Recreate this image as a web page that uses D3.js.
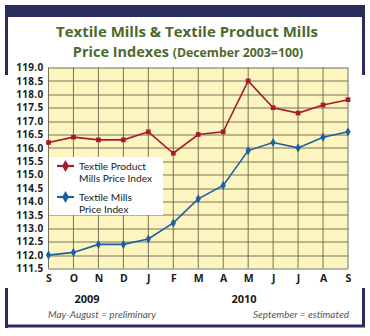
<!DOCTYPE html>
<html>
<head>
<meta charset="utf-8">
<script src="https://cdn.jsdelivr.net/npm/d3@7"></script>
<style>
  body { margin: 0; background: #fff; }
  svg { display: block; }
</style>
</head>
<body>
<div id="chart"></div>
<script>
// months Sep 2009 - Sep 2010
var months = ["S", "O", "N", "D", "J", "F", "M", "A", "M", "J", "J", "A", "S"];
var productMills = [116.2, 116.4, 116.3, 116.3, 116.6, 115.8, 116.5, 116.6, 118.5, 117.5, 117.3, 117.6, 117.8];
var textileMills = [112.0, 112.1, 112.4, 112.4, 112.6, 113.2, 114.1, 114.6, 115.9, 116.2, 116.0, 116.4, 116.6];
var yTicks = [111.5, 112, 112.5, 113, 113.5, 114, 114.5, 115, 115.5, 116, 116.5, 117, 117.5, 118, 118.5, 119];
var seriesNames = [["Textile Product", "Mills Price Index"], ["Textile Mills", "Price Index"]];

var svgWidth = 370;
var svgHeight = 336;
var margin = { top: 67.5, left: 48.5, right: 22, bottom: 68 };
var width = 348 - 48.5;
var height = 268.5 - 67.5;

var navy = "#2b2c5e";
var red = "#a8192a";
var blue = "#1d5fa3";

var svg = d3.select("#chart")
  .append("svg")
  .attr("width", svgWidth)
  .attr("height", svgHeight);

// frame
svg.append("rect").attr("x", 5).attr("y", 5).attr("width", 360).attr("height", 12).attr("fill", navy);
svg.append("rect").attr("x", 5).attr("y", 5).attr("width", 3).attr("height", 70).attr("fill", navy);
svg.append("rect").attr("x", 362).attr("y", 5).attr("width", 3).attr("height", 70).attr("fill", navy);
svg.append("rect").attr("x", 5).attr("y", 288).attr("width", 3).attr("height", 40).attr("fill", navy);
svg.append("rect").attr("x", 362).attr("y", 288).attr("width", 3).attr("height", 39).attr("fill", navy);
svg.append("rect").attr("x", 5).attr("y", 324.5).attr("width", 360).attr("height", 3).attr("fill", navy);

// title
var titleFont = "'Open Sans', 'DejaVu Sans', sans-serif";
svg.append("text")
  .attr("x", 187).attr("y", 37)
  .attr("text-anchor", "middle")
  .attr("font-family", titleFont)
  .attr("font-weight", "bold")
  .attr("font-size", 15)
  .attr("fill", "#4d6a2c")
  .text("Textile Mills & Textile Product Mills");

var t2 = svg.append("text")
  .attr("x", 188).attr("y", 57)
  .attr("text-anchor", "middle")
  .attr("font-family", titleFont)
  .attr("font-weight", "bold")
  .attr("fill", "#4d6a2c");
t2.append("tspan").attr("font-size", 14.5).text("Price Indexes ");
t2.append("tspan").attr("font-size", 12.3).text("(December 2003=100)");

var chartGroup = svg.append("g")
  .attr("transform", `translate(${margin.left}, ${margin.top})`);

var x = d3.scalePoint()
  .domain(d3.range(months.length))
  .range([0, width]);

var y = d3.scaleLinear()
  .domain([111.5, 119])
  .range([height, 0]);

chartGroup.append("rect")
  .attr("width", width).attr("height", height)
  .attr("fill", "#fcf5bf");

// grid
chartGroup.selectAll(".hgrid").data(yTicks).enter()
  .append("line")
  .attr("x1", 0).attr("x2", width)
  .attr("y1", d => Math.round(y(d)) + 0.5).attr("y2", d => Math.round(y(d)) + 0.5)
  .attr("stroke", "#66644a").attr("stroke-width", 0.9);

chartGroup.selectAll(".vgrid").data(d3.range(months.length)).enter()
  .append("line")
  .attr("x1", d => x(d)).attr("x2", d => x(d))
  .attr("y1", 0).attr("y2", height)
  .attr("stroke", "#66644a").attr("stroke-width", 0.9);

// y axis labels
var axisFont = "'Open Sans', 'DejaVu Sans', sans-serif";
var leftAxis = d3.axisLeft(y).tickValues(yTicks).tickSize(0).tickPadding(5).tickFormat(d3.format(".1f"));
chartGroup.append("g")
  .call(leftAxis)
  .call(g => g.select(".domain").remove())
  .selectAll("text")
  .attr("font-family", axisFont)
  .attr("font-weight", "bold")
  .attr("font-size", 10)
  .attr("letter-spacing", 0.3)
  .attr("fill", "#1a1a1a");

var bottomAxis = d3.axisBottom(x).tickSize(0).tickPadding(6).tickFormat(i => months[i]);
chartGroup.append("g")
  .attr("transform", `translate(0, ${height})`)
  .call(bottomAxis)
  .call(g => g.select(".domain").remove())
  .selectAll("text")
  .attr("font-family", axisFont)
  .attr("font-weight", "bold")
  .attr("font-size", 10.5)
  .attr("fill", "#1a1a1a");

// lines
var line = d3.line()
  .x((d, i) => x(i))
  .y(d => y(d));

chartGroup.append("path")
  .datum(productMills)
  .attr("d", line)
  .attr("fill", "none").attr("stroke", red).attr("stroke-width", 1.6);

chartGroup.append("path")
  .datum(textileMills)
  .attr("d", line)
  .attr("fill", "none").attr("stroke", blue).attr("stroke-width", 1.6);

var square = d3.symbol().type(d3.symbolSquare).size(22);
var diamond = d3.symbol().type(d3.symbolDiamond).size(24);

chartGroup.selectAll(".pm").data(productMills).enter()
  .append("path")
  .attr("d", square)
  .attr("transform", (d, i) => `translate(${x(i)}, ${y(d)})`)
  .attr("fill", red);

chartGroup.selectAll(".tm").data(textileMills).enter()
  .append("path")
  .attr("d", diamond)
  .attr("transform", (d, i) => `translate(${x(i)}, ${y(d)})`)
  .attr("fill", blue);

// legend
svg.append("rect")
  .attr("x", 49).attr("y", 157).attr("width", 114).attr("height", 58)
  .attr("fill", "#fff");

var legendFont = "'Lato', 'Open Sans', sans-serif";
var legendColors = [red, blue];
var legendY = [166, 197];
seriesNames.forEach(function(name, i) {
  svg.append("line")
    .attr("x1", 57).attr("x2", 74)
    .attr("y1", legendY[i]).attr("y2", legendY[i])
    .attr("stroke", legendColors[i]).attr("stroke-width", 2.2);
  svg.append("path")
    .attr("d", d3.symbol().type(d3.symbolDiamond).size(40))
    .attr("transform", `translate(65.5, ${legendY[i]})`)
    .attr("fill", legendColors[i]);
  var lt = svg.append("text")
    .attr("x", 79).attr("y", legendY[i] + 3.5)
    .attr("font-family", legendFont)
    .attr("font-size", 10.2)
    .attr("fill", "#222");
  lt.append("tspan").attr("x", 79).text(name[0]);
  lt.append("tspan").attr("x", 79).attr("dy", 12.3).text(name[1]);
});

// years and notes
svg.append("text")
  .attr("x", 87).attr("y", 303)
  .attr("text-anchor", "middle")
  .attr("font-family", axisFont).attr("font-weight", "bold").attr("font-size", 11)
  .attr("fill", "#1a1a1a")
  .text("2009");

svg.append("text")
  .attr("x", 244).attr("y", 303)
  .attr("text-anchor", "middle")
  .attr("font-family", axisFont).attr("font-weight", "bold").attr("font-size", 11)
  .attr("fill", "#1a1a1a")
  .text("2010");

svg.append("text")
  .attr("x", 48).attr("y", 318)
  .attr("font-family", legendFont).attr("font-style", "italic").attr("font-size", 10)
  .attr("fill", "#555")
  .text("May-August = preliminary");

svg.append("text")
  .attr("x", 349).attr("y", 318)
  .attr("text-anchor", "end")
  .attr("font-family", legendFont).attr("font-style", "italic").attr("font-size", 10)
  .attr("fill", "#555")
  .text("September = estimated");
</script>
</body>
</html>
